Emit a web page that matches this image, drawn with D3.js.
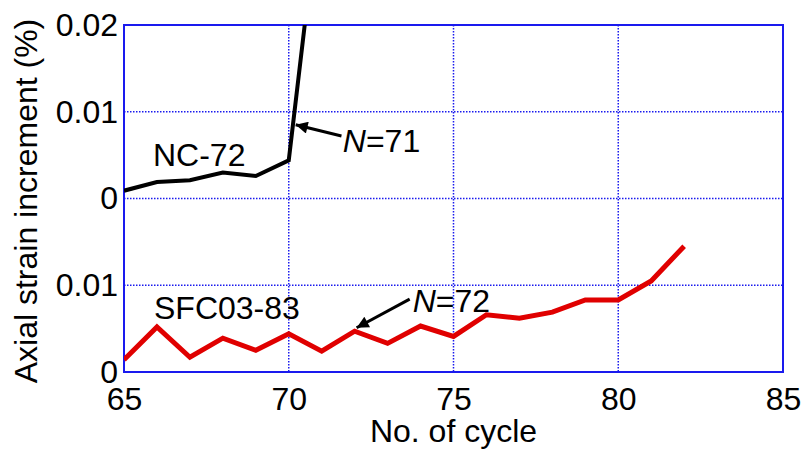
<!DOCTYPE html>
<html>
<head>
<meta charset="utf-8">
<script src="https://cdn.jsdelivr.net/npm/d3@7"></script>
<style>
  body { margin: 0; background: #fff; }
  svg { display: block; font-family: "Liberation Sans", Arial, sans-serif; }
</style>
</head>
<body>
<div class="chart"></div>
<script>
var chartOptions = {
  width: 802,
  height: 452,
  left: 124,
  right: 783,
  top: 25,
  bottom: 372
};

// data
var cycles = [65, 66, 67, 68, 69, 70, 71, 72, 73, 74, 75, 76, 77, 78, 79, 80, 81, 82];
var nc72 = [0.0009, 0.0019, 0.0021, 0.0030, 0.0026, 0.0044, 0.0366];
var sfc0383 = [0.0014, 0.0052, 0.0017, 0.0039, 0.0025, 0.0044, 0.0024, 0.0047, 0.0033,
               0.0053, 0.0041, 0.0066, 0.0062, 0.0069, 0.0083, 0.0083, 0.0105, 0.0145];
var xTicks = [65, 70, 75, 80, 85];
var topTicks = [0, 0.01, 0.02];
var bottomTicks = [0, 0.01];

var svg = d3.select('.chart').append('svg')
  .attr('width', chartOptions.width)
  .attr('height', chartOptions.height);

var mid = (chartOptions.top + chartOptions.bottom) / 2;

var x = d3.scaleLinear().domain([65, 85]).range([chartOptions.left, chartOptions.right]);
var yTop = d3.scaleLinear().domain([0, 0.02]).range([mid, chartOptions.top]);
var yBottom = d3.scaleLinear().domain([0, 0.02]).range([chartOptions.bottom, mid]);

var blue = '#1a1aee';

// clip to plot box
svg.append('clipPath').attr('id', 'plotClip')
  .append('rect')
  .attr('x', chartOptions.left)
  .attr('y', chartOptions.top)
  .attr('width', chartOptions.right - chartOptions.left)
  .attr('height', chartOptions.bottom - chartOptions.top);

// grid lines
var grid = svg.append('g');
grid.selectAll('line.vgrid')
  .data(xTicks.slice(1, -1))
  .enter().append('line')
  .attr('x1', function(d) { return x(d); })
  .attr('x2', function(d) { return x(d); })
  .attr('y1', chartOptions.top)
  .attr('y2', chartOptions.bottom)
  .attr('stroke', blue)
  .attr('stroke-width', 1.5)
  .attr('stroke-dasharray', '1.5,1.5');

var hgrid = [yTop(0.01), yTop(0), yBottom(0.01)];
grid.selectAll('line.hgrid')
  .data(hgrid)
  .enter().append('line')
  .attr('x1', chartOptions.left)
  .attr('x2', chartOptions.right)
  .attr('y1', function(d) { return d; })
  .attr('y2', function(d) { return d; })
  .attr('stroke', blue)
  .attr('stroke-width', 1.5)
  .attr('stroke-dasharray', '1.5,1.5');

// box
svg.append('rect')
  .attr('x', chartOptions.left)
  .attr('y', chartOptions.top)
  .attr('width', chartOptions.right - chartOptions.left)
  .attr('height', chartOptions.bottom - chartOptions.top)
  .attr('fill', 'none')
  .attr('stroke', blue)
  .attr('stroke-width', 2);

// axes (labels only)
var fmt = function(d) { return d === 0 ? '0' : d3.format('.2f')(d); };

var xAxis = svg.append('g')
  .attr('transform', 'translate(0,' + chartOptions.bottom + ')')
  .call(d3.axisBottom(x).tickValues(xTicks).tickSize(0).tickPadding(15));

var yAxisTop = svg.append('g')
  .attr('transform', 'translate(' + chartOptions.left + ',0)')
  .call(d3.axisLeft(yTop).tickValues(topTicks).tickFormat(fmt).tickSize(0).tickPadding(6));

var yAxisBottom = svg.append('g')
  .attr('transform', 'translate(' + chartOptions.left + ',0)')
  .call(d3.axisLeft(yBottom).tickValues(bottomTicks).tickFormat(fmt).tickSize(0).tickPadding(6));

[xAxis, yAxisTop, yAxisBottom].forEach(function(a) {
  a.select('.domain').remove();
  a.selectAll('text')
    .attr('font-family', '"Liberation Sans", Arial, sans-serif')
    .attr('font-size', 32)
    .attr('fill', '#000');
});

// series lines
var lineTop = d3.line()
  .x(function(d, i) { return x(cycles[i]); })
  .y(function(d) { return yTop(d); });

var lineBottom = d3.line()
  .x(function(d, i) { return x(cycles[i]); })
  .y(function(d) { return yBottom(d); });

var plot = svg.append('g').attr('clip-path', 'url(#plotClip)');

plot.append('path')
  .datum(nc72)
  .attr('d', lineTop)
  .attr('fill', 'none')
  .attr('stroke', '#000')
  .attr('stroke-width', 4)
  .attr('stroke-linejoin', 'miter');

plot.append('path')
  .datum(sfc0383)
  .attr('d', lineBottom)
  .attr('fill', 'none')
  .attr('stroke', '#e00000')
  .attr('stroke-width', 5)
  .attr('stroke-linejoin', 'miter');

// arrowhead
svg.append('defs').append('marker')
  .attr('id', 'arrow')
  .attr('viewBox', '0 0 10 10')
  .attr('refX', 10)
  .attr('refY', 5)
  .attr('markerWidth', 5)
  .attr('markerHeight', 4)
  .attr('markerUnits', 'strokeWidth')
  .attr('orient', 'auto')
  .append('path')
  .attr('d', 'M0,0L10,5L0,10Z')
  .attr('fill', '#000');

// annotations
var labels = [
  { text: 'NC-72', cx: 65.88, v: 0.0038, y: yTop },
  { text: 'SFC03-83', cx: 65.91, v: 0.0061, y: yBottom }
];
svg.selectAll('text.series-label')
  .data(labels)
  .enter().append('text')
  .attr('class', 'series-label')
  .attr('x', function(d) { return x(d.cx); })
  .attr('y', function(d) { return d.y(d.v); })
  .attr('font-size', 32)
  .text(function(d) { return d.text; });

var notes = [
  { n: '71', tail: [71.6, 0.0072], tip: [70.21, 0.0085], pos: [71.64, 0.0054], y: yTop },
  { n: '72', tail: [73.67, 0.0084], tip: [72.06, 0.0051], pos: [73.76, 0.0069], y: yBottom }
];
notes.forEach(function(d) {
  svg.append('line')
    .attr('x1', x(d.tail[0]))
    .attr('y1', d.y(d.tail[1]))
    .attr('x2', x(d.tip[0]))
    .attr('y2', d.y(d.tip[1]))
    .attr('stroke', '#000')
    .attr('stroke-width', 3)
    .attr('marker-end', 'url(#arrow)');
  var t = svg.append('text')
    .attr('x', x(d.pos[0]))
    .attr('y', d.y(d.pos[1]))
    .attr('font-size', 32);
  t.append('tspan').attr('font-style', 'italic').text('N');
  t.append('tspan').text('=' + d.n);
});

// axis titles
svg.append('text')
  .attr('x', (chartOptions.left + chartOptions.right) / 2)
  .attr('y', 442)
  .attr('text-anchor', 'middle')
  .attr('font-size', 32)
  .text('No. of cycle');

svg.append('text')
  .attr('transform', 'translate(37,' + 201 + ') rotate(-90)')
  .attr('text-anchor', 'middle')
  .attr('font-size', 32)
  .text('Axial strain increment (%)');
</script>
</body>
</html>
